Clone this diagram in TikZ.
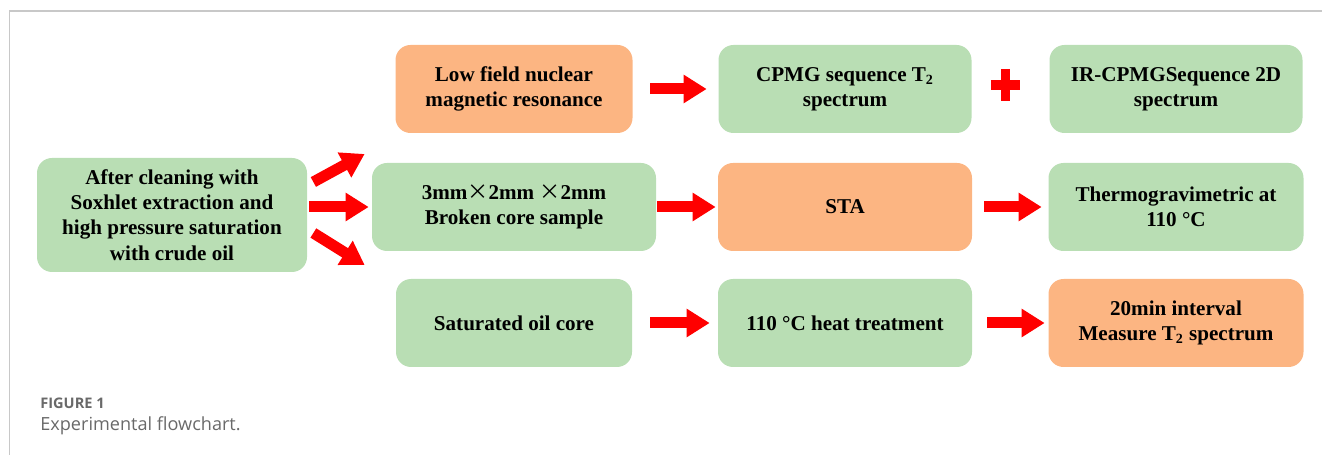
\documentclass[tikz,border=0pt]{standalone}
\usepackage{fontspec}
\setmainfont{Liberation Serif}
\newfontfamily\capfont{Open Sans}
\newfontfamily\cjkfont{Noto Sans CJK SC}
\usetikzlibrary{positioning,arrows.meta,calc}

\definecolor{boxgreen}{RGB}{185,222,180}
\definecolor{boxorange}{RGB}{252,181,130}
\definecolor{capgray}{RGB}{105,105,105}
\definecolor{framegray}{RGB}{200,200,200}

\begin{document}
\begin{tikzpicture}[%
    node distance=6.62cm,
    on grid,
    box/.style={rounded corners=0.3cm, minimum width=5.08cm, minimum height=1.76cm,
      align=center, inner sep=0pt, font=\fontsize{12}{14.4}\selectfont\bfseries},
    green box/.style={box, fill=boxgreen},
    orange box/.style={box, fill=boxorange},
    blk/.style={red, line width=0.22cm, -{Triangle[length=0.46cm,width=0.54cm]}}
  ]
    \useasboundingbox (0,0) rectangle (26.44,-9.10);
    \draw[framegray, line width=0.03cm] (0.19,-9.10) -- (0.19,-0.22) -- (26.44,-0.22);

    \node[green box, minimum width=5.40cm, minimum height=2.28cm] (src) at (3.44,-4.30)
      {After cleaning with\\ Soxhlet extraction and\\ high pressure saturation\\ with crude oil};
    \node[green box, minimum width=5.68cm] (broken) [right=6.84cm of src, yshift=0.16cm]
      {3mm{\mdseries\cjkfont ×}2mm {\mdseries\cjkfont ×}2mm\\ Broken core sample};
    \node[orange box, minimum width=4.74cm] (low) [above=2.36cm of broken]
      {Low field nuclear\\ magnetic resonance};
    \node[green box, minimum width=4.72cm] (sat) [below=2.32cm of broken]
      {Saturated oil core};

    \node[green box, minimum width=5.06cm] (cpmg) [right=of low]
      {CPMG sequence T\textsubscript{2}\\ spectrum};
    \node[orange box] (sta) [right=of broken] {STA};
    \node[green box] (heat) [right=of sat] {110 °C heat treatment};

    \node[green box, minimum width=5.06cm] (ir) [right=of cpmg]
      {IR-CPMGSequence 2D\\ spectrum};
    \node[green box, minimum width=5.10cm] (thermo) [right=of sta]
      {Thermogravimetric at\\ 110 °C};
    \node[orange box, minimum width=5.10cm] (meas) [right=of heat]
      {20min interval\\ Measure T\textsubscript{2} spectrum};

    \draw[blk] ([shift={(0.12,0.66)}]src.east) -- ([shift={(-0.14,1.06)}]broken.west);
    \draw[blk, shorten <=0.04cm, shorten >=0.06cm] (src.east |- broken) -- (broken);
    \draw[blk] ([shift={(0.12,-0.36)}]src.east) -- ([shift={(-0.14,-1.16)}]broken.west);

    \draw[blk, shorten <=0.35cm, shorten >=0.23cm] (low) -- (cpmg);
    \draw[blk, shorten <=0.02cm, shorten >=0.04cm] (broken) -- (sta);
    \draw[blk, shorten <=0.36cm, shorten >=0.16cm] (sat) -- (heat);
    \draw[blk, shorten <=0.24cm, shorten >=0.13cm] (sta) -- (thermo);
    \draw[blk, shorten <=0.30cm, shorten >=0.07cm] (heat) -- (meas);

    \coordinate (plus) at ([xshift=0.67cm, yshift=0.08cm]cpmg.east);
    \draw[red, line width=0.20cm] ($(plus)+(-0.29,0)$) -- ($(plus)+(0.29,0)$);
    \draw[red, line width=0.18cm] ($(plus)+(0,0.32)$) -- ($(plus)+(0,-0.32)$);

    \node[anchor=base west, inner sep=0pt, text=capgray,
      font=\capfont\bfseries\fontsize{8.3}{10}\selectfont] (fignum) at (0.80,-8.16) {FIGURE 1};
    \node[anchor=base west, inner sep=0pt, text=capgray,
      font=\capfont\fontsize{10.3}{12.4}\selectfont] (figcap) at (0.80,-8.60) {Experimental flowchart.};
  \end{tikzpicture}
\end{document}
